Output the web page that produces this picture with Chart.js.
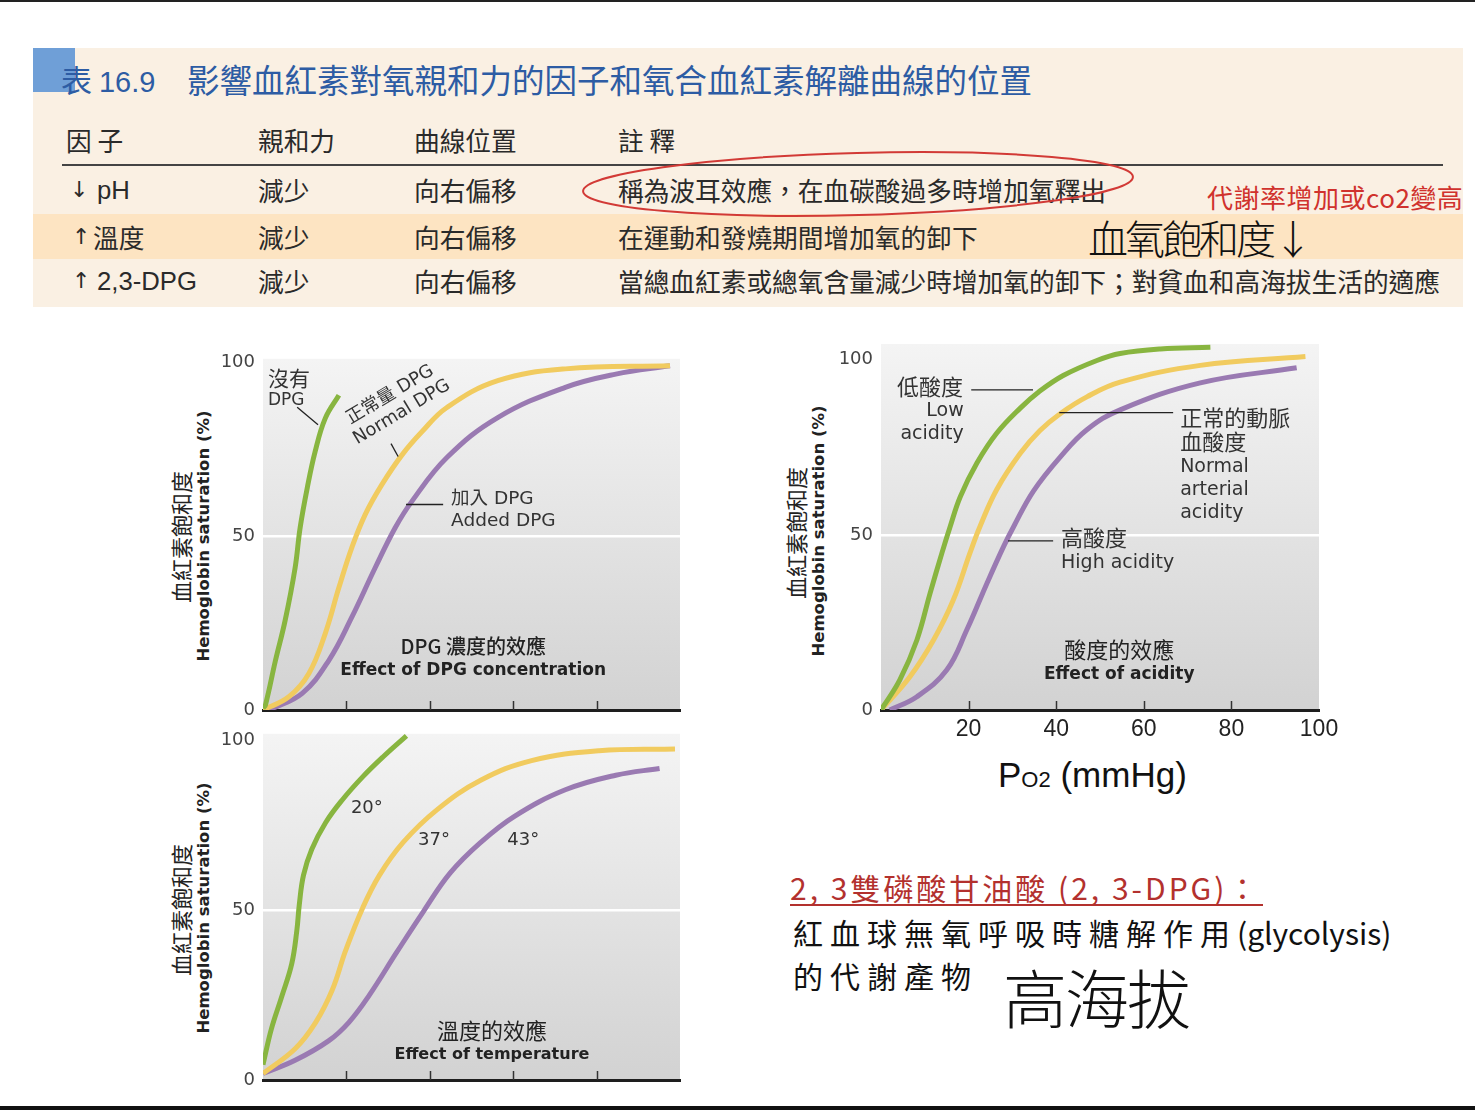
<!DOCTYPE html>
<html><head><meta charset="utf-8">
<script src="https://cdn.jsdelivr.net/npm/chart.js@4.4.0/dist/chart.umd.min.js"></script>
<style>
html,body{margin:0;padding:0;background:#fff;}
body{width:1475px;height:1110px;position:relative;overflow:hidden;font-family:"Noto Sans CJK TC","Noto Sans",sans-serif;color:#222;}
.a{position:absolute;white-space:nowrap;}
.t26{font-size:25.7px;line-height:26px;color:#2a2a2a;}
.yt{position:absolute;white-space:nowrap;transform:translate(-50%,-50%) rotate(-90deg);}
.ycj{font-size:22px;color:#222;}
.yen{font-family:"DejaVu Sans","Liberation Sans",sans-serif;font-weight:bold;font-size:16.5px;color:#222;}
canvas{position:absolute;}
</style>
</head><body>
<div class="a" style="left:0;top:0;width:1475px;height:2px;background:#222;"></div>
<div class="a" style="left:0;top:1106px;width:1475px;height:4px;background:#111;"></div>

<!-- table -->
<div class="a" style="left:33px;top:48px;width:1430px;height:259px;background:#faf0e3;"></div>
<div class="a" style="left:33px;top:214px;width:1430px;height:45px;background:#fde4c2;"></div>
<div class="a" style="left:33px;top:48px;width:42px;height:44px;background:#6f9fd7;"></div>
<div class="a" style="left:61px;top:62px;font-size:31px;line-height:34px;color:#2d5ca4;">表 <span style="font-family:'Liberation Sans';font-size:29px;">16.9</span></div>
<div class="a" style="left:187px;top:62px;font-size:32.5px;line-height:34px;color:#2d5ca4;">影響血紅素對氧親和力的因子和氧合血紅素解離曲線的位置</div>
<div class="a" style="left:62px;top:164px;width:1381px;height:2px;background:#444;"></div>

<div class="a t26" style="left:66px;top:127px;">因 子</div>
<div class="a t26" style="left:258px;top:127px;">親和力</div>
<div class="a t26" style="left:414px;top:127px;">曲線位置</div>
<div class="a t26" style="left:618px;top:127px;">註 釋</div>

<div class="a t26" style="left:70px;top:177px;font-family:'DejaVu Sans';font-size:22px;">↓</div>
<div class="a t26" style="left:97px;top:177px;font-family:'Liberation Sans';">pH</div>
<div class="a t26" style="left:258px;top:177px;">減少</div>
<div class="a t26" style="left:414px;top:177px;">向右偏移</div>
<div class="a t26" style="left:618px;top:177px;">稱為波耳效應，在血碳酸過多時增加氧釋出</div>

<div class="a t26" style="left:72px;top:224px;font-family:'DejaVu Sans';font-size:22px;">↑</div>
<div class="a t26" style="left:93px;top:224px;">溫度</div>
<div class="a t26" style="left:258px;top:224px;">減少</div>
<div class="a t26" style="left:414px;top:224px;">向右偏移</div>
<div class="a t26" style="left:618px;top:224px;">在運動和發燒期間增加氧的卸下</div>

<div class="a t26" style="left:72px;top:268px;font-family:'DejaVu Sans';font-size:22px;">↑</div>
<div class="a t26" style="left:97px;top:268px;font-family:'Liberation Sans';">2,3-DPG</div>
<div class="a t26" style="left:258px;top:268px;">減少</div>
<div class="a t26" style="left:414px;top:268px;">向右偏移</div>
<div class="a t26" style="left:618px;top:268px;">當總血紅素或總氧含量減少時增加氧的卸下；對貧血和高海拔生活的適應</div>

<svg class="a" style="left:0;top:0;" width="1475" height="1110">
  <ellipse cx="858" cy="184" rx="275" ry="31" transform="rotate(-1.5 858 184)" fill="none" stroke="#d23a36" stroke-width="2"/>
</svg>
<div class="a" style="left:1207px;top:183px;font-size:26px;line-height:28px;color:#d0322d;letter-spacing:0.5px;">代謝率增加或co2變高</div>
<div class="a" style="left:1088px;top:214px;font-size:40px;line-height:46px;font-weight:300;color:#111;letter-spacing:-3px;">血氧飽和度↓</div>

<!-- axis titles -->
<div class="yt ycj" style="left:180px;top:537px;">血紅素飽和度</div>
<div class="yt yen" style="left:203px;top:536px;">Hemoglobin saturation (%)</div>
<div class="yt ycj" style="left:180px;top:910px;">血紅素飽和度</div>
<div class="yt yen" style="left:203px;top:908px;">Hemoglobin saturation (%)</div>
<div class="yt ycj" style="left:795px;top:533px;">血紅素飽和度</div>
<div class="yt yen" style="left:818px;top:531px;">Hemoglobin saturation (%)</div>
<div class="a" style="left:998px;top:755px;font-family:'Liberation Sans',Arial,sans-serif;font-size:35px;line-height:40px;color:#111;">P<span style="font-size:22px;">O2</span> (mmHg)</div>

<canvas id="c1" width="500" height="390" style="left:200px;top:340px;width:500px;height:390px;"></canvas>
<canvas id="c3" width="500" height="385" style="left:200px;top:715px;width:500px;height:385px;"></canvas>
<canvas id="c2" width="540" height="420" style="left:820px;top:325px;width:540px;height:420px;"></canvas>

<!-- bottom note -->
<div class="a" style="left:790px;top:869px;font-size:30px;line-height:36px;color:#b3312e;letter-spacing:3px;">2, 3雙磷酸甘油酸 (2, 3-DPG)：</div>
<div class="a" style="left:790px;top:904px;width:473px;height:2px;background:#b3312e;"></div>
<div class="a" style="left:793px;top:914px;font-size:30px;line-height:36px;color:#111;"><span style="letter-spacing:7px;">紅血球無氧呼吸時糖解作用</span>(glycolysis)</div>
<div class="a" style="left:793px;top:957px;font-size:30px;line-height:36px;color:#111;letter-spacing:7px;">的代謝產物</div>
<div class="a" style="left:1003px;top:955px;font-size:64px;line-height:80px;font-weight:300;color:#111;letter-spacing:-2px;">高海拔</div>

<script>
// ---------- data ----------
// Chart 1: effect of DPG concentration
const dpgNoneX   = [0, 0.6, 3, 5.3, 7.7, 8.9, 10.6, 12.5, 14.9, 18.2];
const dpgNoneY   = [0.5, 1.5, 14.3, 25.7, 40.9, 52.4, 63.8, 74.3, 83.8, 90.5];
const dpgNormalX = [0, 6.2, 11, 14.9, 18.2, 21.3, 24.5, 28.5, 33.3, 38.1, 44.1, 56.3, 72.5, 97.6];
const dpgNormalY = [0, 3.8, 10.5, 21.9, 35.2, 46.7, 56.2, 64.8, 73.3, 80, 87, 94.7, 98.1, 99];
const dpgAddedX  = [1.5, 9.4, 15.8, 21.3, 26.9, 31.7, 35.7, 44.1, 56.3, 72.5, 84.6, 97.6];
const dpgAddedY  = [0, 4.8, 14.3, 26.7, 40.9, 52.4, 60, 72.6, 84.1, 92.8, 96.6, 99];

// Chart 2: effect of acidity (x = PO2 mmHg)
const acidLowX    = [0, 4.3, 8.2, 11.2, 13.9, 15.8, 18.1, 21.9, 26.4, 31.8, 36, 41.6, 49.3, 54.6, 63.8, 75.2];
const acidLowY    = [0, 8.6, 20, 33.3, 44.8, 52.4, 60.9, 70.5, 79, 86.2, 90.8, 95.5, 99.8, 101.8, 103.1, 103.6];
const acidNormalX = [0, 6.6, 12, 16.5, 20.3, 22.6, 26.4, 31.8, 36.3, 40.9, 47, 54.6, 72.9, 96.9];
const acidNormalY = [0, 9.5, 20, 31.4, 44.8, 52.4, 62.9, 73.3, 79.8, 84.6, 89.4, 93.6, 98.4, 100.9];
const acidHighX   = [2, 8.2, 15, 19.6, 24.2, 28, 30.3, 34.8, 40.9, 47, 54.6, 72.9, 94.9];
const acidHighY   = [0, 3.8, 11.4, 22.9, 36.2, 46.7, 52.4, 62.5, 72.2, 80, 85.7, 93.4, 97.7];

// Chart 3: effect of temperature
const temp20X = [0, 2, 4.5, 6.9, 8.1, 8.7, 9.7, 11.7, 15, 19, 23.9, 28.7, 34.4];
const temp20Y = [4.5, 15, 24.6, 34.3, 43.9, 51.6, 60.3, 68, 75.8, 82.5, 89.3, 95.1, 101.4];
const temp37X = [0, 7.7, 12.6, 16.6, 19.8, 23.9, 27.9, 33.6, 41.7, 52.2, 64.4, 80.6, 98.8];
const temp37Y = [1.9, 9.2, 16.9, 26.5, 38.1, 50.7, 60.3, 70, 79.6, 88.3, 94.1, 97, 97.5];
const temp43X = [0, 7.7, 15.8, 20.6, 25.5, 32, 38.5, 44.9, 52.2, 60.3, 72.5, 84.6, 95.1];
const temp43Y = [1.9, 5.8, 11.6, 17, 25, 37.5, 49.7, 61, 70, 77.7, 85.5, 89.8, 91.8];

const yTickValues = [0, 50, 100];
const po2TickValues = [20, 40, 60, 80, 100];
const innerTickValues = [20, 40, 60, 80];

// ---------- helpers ----------
const GREEN = '#88b540', YELLOW = '#f1cb5f', PURPLE = '#9a7ab2';
const pts = (xs, ys) => xs.map((x, i) => ({x: x, y: ys[i]}));
const series = (xs, ys, color) => ({
  data: pts(xs, ys), showLine: true, borderColor: color, borderWidth: 5,
  pointRadius: 0, tension: 0.4, fill: false, borderCapStyle: 'butt'
});

const bgPlugin = {
  id: 'bgGrad',
  beforeDraw(chart) {
    const {ctx, chartArea: a} = chart;
    const g = ctx.createLinearGradient(0, a.top, 0, a.bottom);
    g.addColorStop(0, '#f4f4f4'); g.addColorStop(1, '#d2d2d2');
    ctx.save(); ctx.fillStyle = g;
    ctx.fillRect(a.left, a.top, a.right - a.left, a.bottom - a.top);
    ctx.restore();
  }
};
const upTicksPlugin = {
  id: 'upTicks',
  afterDatasetsDraw(chart) {
    const xs = chart.scales.x, a = chart.chartArea, ctx = chart.ctx;
    ctx.save(); ctx.strokeStyle = '#333'; ctx.lineWidth = 1.5;
    innerTickValues.forEach(v => {
      const px = Math.round(xs.getPixelForValue(v)) + 0.5;
      ctx.beginPath(); ctx.moveTo(px, a.bottom); ctx.lineTo(px, a.bottom - 9); ctx.stroke();
    });
    ctx.restore();
  }
};
const notesPlugin = {
  id: 'notes',
  afterDatasetsDraw(chart, args, opts) {
    const {ctx} = chart, xs = chart.scales.x, ys = chart.scales.y;
    ctx.save();
    ctx.strokeStyle = '#222'; ctx.lineWidth = 1.3;
    (opts.lines || []).forEach(l => {
      ctx.beginPath();
      ctx.moveTo(xs.getPixelForValue(l[0]), ys.getPixelForValue(l[1]));
      ctx.lineTo(xs.getPixelForValue(l[2]), ys.getPixelForValue(l[3]));
      ctx.stroke();
    });
    (opts.texts || []).forEach(t => {
      ctx.save();
      ctx.translate(xs.getPixelForValue(t.x), ys.getPixelForValue(t.y));
      if (t.rot) ctx.rotate(t.rot * Math.PI / 180);
      ctx.font = t.font; ctx.fillStyle = t.color || '#333';
      ctx.textAlign = t.align || 'left'; ctx.textBaseline = 'middle';
      ctx.fillText(t.text, 0, 0);
      ctx.restore();
    });
    ctx.restore();
  }
};

const FCJ = "'Noto Sans CJK TC'";
const FEN = "'DejaVu Sans', 'Noto Sans CJK TC'";

function yAxis(max, width) {
  return {
    type: 'linear', min: 0, max: max,
    afterBuildTicks: s => { s.ticks = yTickValues.map(v => ({value: v})); },
    afterFit: s => { s.width = width; },
    ticks: {font: {family: 'DejaVu Sans', size: 18}, color: '#444', padding: 8},
    grid: {drawTicks: false, lineWidth: 2.5,
      color: c => (c.tick && c.tick.value === 50) ? '#ffffff' : 'rgba(0,0,0,0)'},
    border: {display: false}
  };
}
function xAxisPlain(height) {
  return {
    type: 'linear', min: 0, max: 100,
    ticks: {display: false},
    grid: {display: false, drawTicks: false},
    border: {display: true, color: '#1e1e1e', width: 3},
    afterFit: s => { s.height = height; }
  };
}
function baseOptions(extra) {
  return Object.assign({
    responsive: false, animation: false, devicePixelRatio: 1,
    plugins: {legend: {display: false}, tooltip: {enabled: false}}
  }, extra);
}

// ---------- chart 1 ----------
new Chart(document.getElementById('c1'), {
  type: 'scatter',
  data: {datasets: [
    series(dpgNoneX, dpgNoneY, GREEN),
    series(dpgNormalX, dpgNormalY, YELLOW),
    series(dpgAddedX, dpgAddedY, PURPLE)
  ]},
  options: baseOptions({
    layout: {padding: {top: 16, right: 20, left: 0, bottom: 0}},
    scales: {x: xAxisPlain(20), y: yAxis(101, 63)},
    plugins: {legend: {display: false}, tooltip: {enabled: false},
      notes: {
        lines: [[8.2, 87.1, 13.2, 82], [30.7, 76.6, 32.4, 72.9], [34.3, 59.1, 43.2, 59.1]],
        texts: [
          {x: 1.2, y: 95.4, text: '沒有', font: '21px ' + FCJ},
          {x: 1.2, y: 89.1, text: 'DPG', font: '17px ' + FEN},
          {x: 30.5, y: 90.6, text: '正常量 DPG', font: '18px ' + FEN, align: 'center', rot: -31},
          {x: 33.3, y: 85.6, text: 'Normal DPG', font: '18px ' + FEN, align: 'center', rot: -31},
          {x: 45.1, y: 60.6, text: '加入 DPG', font: '18.5px ' + FEN},
          {x: 45.1, y: 54.3, text: 'Added DPG', font: '18.5px ' + FEN},
          {x: 50.4, y: 18.2, text: 'DPG 濃度的效應', font: '500 20px ' + FCJ, align: 'center', color: '#222'},
          {x: 50.4, y: 11.4, text: 'Effect of DPG concentration', font: 'bold 17px ' + FEN, align: 'center', color: '#222'}
        ]
      }}
  }),
  plugins: [bgPlugin, upTicksPlugin, notesPlugin]
});

// ---------- chart 3 ----------
new Chart(document.getElementById('c3'), {
  type: 'scatter',
  data: {datasets: [
    series(temp20X, temp20Y, GREEN),
    series(temp37X, temp37Y, YELLOW),
    series(temp43X, temp43Y, PURPLE)
  ]},
  options: baseOptions({
    layout: {padding: {top: 12, right: 20, left: 0, bottom: 0}},
    scales: {x: xAxisPlain(20), y: yAxis(102, 63)},
    plugins: {legend: {display: false}, tooltip: {enabled: false},
      notes: {
        lines: [],
        texts: [
          {x: 24.9, y: 80.1, text: '20°', font: '18px ' + FEN, align: 'center'},
          {x: 41, y: 70.5, text: '37°', font: '18px ' + FEN, align: 'center'},
          {x: 62.4, y: 70.5, text: '43°', font: '18px ' + FEN, align: 'center'},
          {x: 54.9, y: 14.5, text: '溫度的效應', font: '22px ' + FCJ, align: 'center', color: '#222'},
          {x: 54.9, y: 7.5, text: 'Effect of temperature', font: 'bold 16px ' + FEN, align: 'center', color: '#222'}
        ]
      }}
  }),
  plugins: [bgPlugin, upTicksPlugin, notesPlugin]
});

// ---------- chart 2 ----------
new Chart(document.getElementById('c2'), {
  type: 'scatter',
  data: {datasets: [
    series(acidLowX, acidLowY, GREEN),
    series(acidNormalX, acidNormalY, YELLOW),
    series(acidHighX, acidHighY, PURPLE)
  ]},
  options: baseOptions({
    layout: {padding: {top: 19, right: 41, left: 0, bottom: 0}},
    scales: {
      x: {
        type: 'linear', min: 0, max: 100,
        afterBuildTicks: s => { s.ticks = po2TickValues.map(v => ({value: v})); },
        ticks: {font: {family: 'Liberation Sans', size: 23}, color: '#222', padding: 6, maxRotation: 0, autoSkip: false},
        grid: {display: false, drawTicks: false},
        border: {display: true, color: '#1e1e1e', width: 3},
        afterFit: s => { s.height = 35; }
      },
      y: yAxis(104.5, 61)
    },
    plugins: {legend: {display: false}, tooltip: {enabled: false},
      notes: {
        lines: [[20.6, 91.4, 34.7, 91.4], [40.7, 84.9, 66.7, 84.9], [29, 48.3, 39.3, 48.3]],
        texts: [
          {x: 18.7, y: 92.2, text: '低酸度', font: '22px ' + FCJ, align: 'right'},
          {x: 18.9, y: 85.4, text: 'Low', font: '19px ' + FEN, align: 'right'},
          {x: 18.9, y: 78.9, text: 'acidity', font: '19px ' + FEN, align: 'right'},
          {x: 68.3, y: 83.6, text: '正常的動脈', font: '22px ' + FCJ},
          {x: 68.3, y: 76.5, text: '血酸度', font: '22px ' + FCJ},
          {x: 68.3, y: 69.4, text: 'Normal', font: '19px ' + FEN},
          {x: 68.3, y: 62.9, text: 'arterial', font: '19px ' + FEN},
          {x: 68.3, y: 56.3, text: 'acidity', font: '19px ' + FEN},
          {x: 41.1, y: 49.1, text: '高酸度', font: '22px ' + FCJ},
          {x: 41.1, y: 42, text: 'High acidity', font: '19px ' + FEN},
          {x: 54.4, y: 17.2, text: '酸度的效應', font: '22px ' + FCJ, align: 'center', color: '#222'},
          {x: 54.4, y: 10, text: 'Effect of acidity', font: 'bold 17px ' + FEN, align: 'center', color: '#222'}
        ]
      }}
  }),
  plugins: [bgPlugin, upTicksPlugin, notesPlugin]
});
</script>
</body></html>
